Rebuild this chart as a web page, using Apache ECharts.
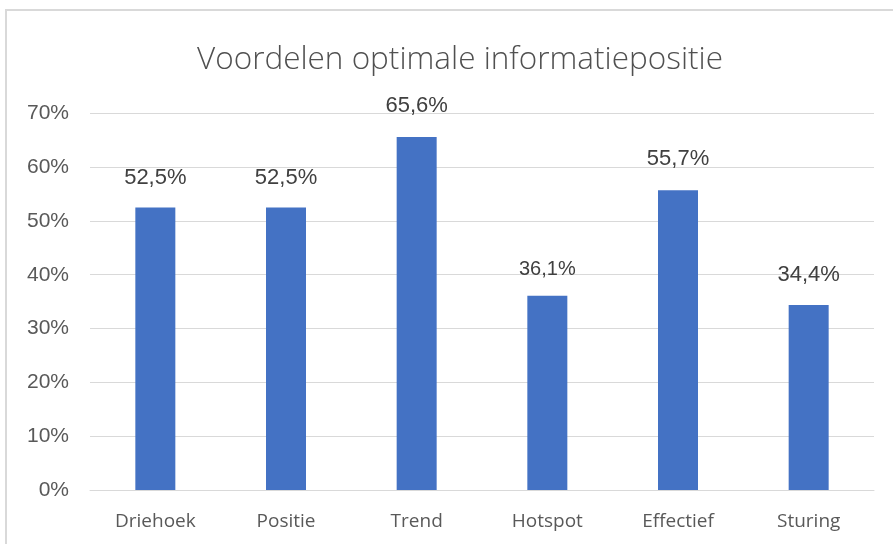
<!DOCTYPE html>
<html>
<head>
<meta charset="utf-8">
<script src="https://cdn.jsdelivr.net/npm/echarts@6/dist/echarts.min.js"></script>
<style>html,body{margin:0;padding:0;background:#fff}#c{width:893px;height:544px}</style>
</head>
<body>
<div id="c"></div>
<script>
var titleText = 'Voordelen optimale informatiepositie';
var categories = ['Driehoek', 'Positie', 'Trend', 'Hotspot', 'Effectief', 'Sturing'];
var values = [52.5, 52.5, 65.6, 36.1, 55.7, 34.4];
var labelSizes = [22, 22, 22, 20, 22, 22];
var labelDistances = [19, 19, 20, 16, 20, 19];
var yTicks = [0, 10, 20, 30, 40, 50, 60, 70];

var chart = echarts.init(document.getElementById('c'));
var data = values.map(function (v, i) {
  return {
    value: v,
    label: { fontSize: labelSizes[i], distance: labelDistances[i] }
  };
});
chart.setOption({
  animation: false,
  backgroundColor: '#fff',
  graphic: [{
    type: 'rect', silent: true,
    shape: { x: 6, y: 10, width: 1000, height: 700 },
    style: { fill: 'none', stroke: '#d9d9d9', lineWidth: 2 }
  }],
  title: {
    text: titleText, left: 192, top: 39,
    textStyle: { fontFamily: 'Open Sans', fontWeight: 300, fontSize: 31.5, color: '#505050' }
  },
  grid: { left: 90, right: 19, top: 113.3, bottom: 54, containLabel: false },
  xAxis: {
    type: 'category', data: categories,
    axisLine: { lineStyle: { color: '#d9d9d9', width: 1 } },
    axisTick: { show: false },
    axisLabel: { fontFamily: 'Open Sans', fontSize: 19, color: '#595959', margin: 22 }
  },
  yAxis: {
    type: 'value', min: yTicks[0], max: yTicks[yTicks.length - 1], interval: 10,
    axisLine: { show: false }, axisTick: { show: false },
    splitLine: { lineStyle: { color: '#d9d9d9', width: 1 } },
    axisLabel: { fontFamily: 'Liberation Sans', fontSize: 21, color: '#595959', margin: 21,
      formatter: function (v) { return v + '%'; } }
  },
  series: [{
    type: 'bar', data: data, barWidth: 40,
    itemStyle: { color: '#4472C4' },
    label: {
      show: true, position: 'top', fontFamily: 'Liberation Sans', color: '#404040',
      formatter: function (p) { return p.value.toFixed(1).replace('.', ',') + '%'; }
    }
  }]
});
</script>
</body>
</html>
